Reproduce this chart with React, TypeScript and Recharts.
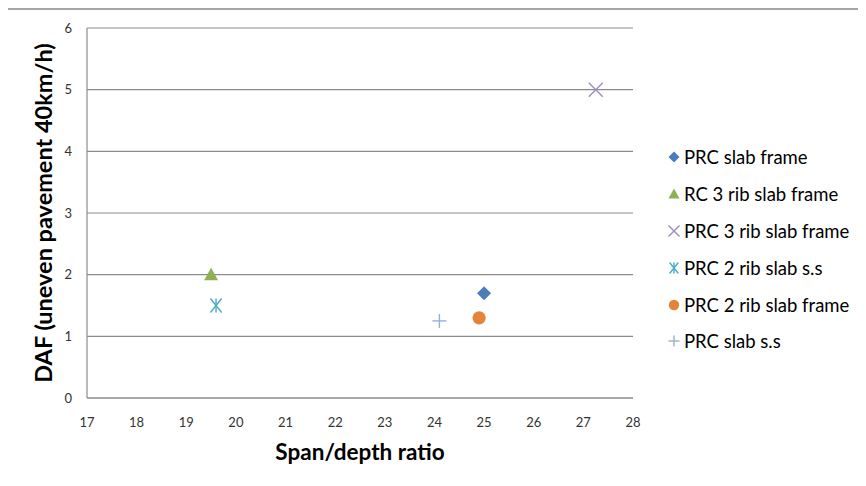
import React from "react";
import {
  ScatterChart,
  Scatter,
  XAxis,
  YAxis,
  CartesianGrid,
  Label,
} from "recharts";

const xTicks = [17, 18, 19, 20, 21, 22, 23, 24, 25, 26, 27, 28];
const yTicks = [0, 1, 2, 3, 4, 5, 6];

const prcSlabFrame = [{ x: 25.0, y: 1.7 }];
const rc3RibSlabFrame = [{ x: 19.5, y: 2.0 }];
const prc3RibSlabFrame = [{ x: 27.25, y: 5.0 }];
const prc2RibSlabSS = [{ x: 19.6, y: 1.5 }];
const prc2RibSlabFrame = [{ x: 24.9, y: 1.3 }];
const prcSlabSS = [{ x: 24.1, y: 1.25 }];

const seriesNames = [
  "PRC slab frame",
  "RC 3 rib slab frame",
  "PRC 3 rib slab frame",
  "PRC 2 rib slab s.s",
  "PRC 2 rib slab frame",
  "PRC slab s.s",
];
const seriesColors = ["#4A7EBB", "#8DB255", "#A08DBF", "#4BACC6", "#E3843A", "#95B0D7"];
const seriesKinds = ["diamond", "triangle", "x", "asterisk", "circle", "plus"];
const seriesData = [prcSlabFrame, rc3RibSlabFrame, prc3RibSlabFrame, prc2RibSlabSS, prc2RibSlabFrame, prcSlabSS];

function marker(kind: string, cx: number, cy: number, color: string, s: number) {
  const h = s / 2;
  switch (kind) {
    case "diamond":
      return <path d={`M${cx},${cy - h} L${cx + h},${cy} L${cx},${cy + h} L${cx - h},${cy} Z`} fill={color} />;
    case "triangle":
      return <path d={`M${cx},${cy - h} L${cx + h},${cy + h * 0.8} L${cx - h},${cy + h * 0.8} Z`} fill={color} />;
    case "x":
      return (
        <g stroke={color} strokeWidth={1.4}>
          <line x1={cx - h} y1={cy - h} x2={cx + h} y2={cy + h} />
          <line x1={cx - h} y1={cy + h} x2={cx + h} y2={cy - h} />
        </g>
      );
    case "asterisk":
      return (
        <g stroke={color} strokeWidth={1.4}>
          <line x1={cx - h * 0.8} y1={cy - h} x2={cx + h * 0.8} y2={cy + h} />
          <line x1={cx - h * 0.8} y1={cy + h} x2={cx + h * 0.8} y2={cy - h} />
          <line x1={cx} y1={cy - h} x2={cx} y2={cy + h} />
        </g>
      );
    case "circle":
      return <circle cx={cx} cy={cy} r={h * 0.95} fill={color} />;
    case "plus":
    default:
      return (
        <g stroke={color} strokeWidth={1.4}>
          <line x1={cx - h} y1={cy} x2={cx + h} y2={cy} />
          <line x1={cx} y1={cy - h} x2={cx} y2={cy + h} />
        </g>
      );
  }
}

const makeShape = (i: number) => (props: any) => {
  const { cx, cy } = props;
  if (cx == null || cy == null) return <g />;
  return marker(seriesKinds[i], cx, cy, seriesColors[i], 14);
};

const LegendBox = () => (
  <div
    style={{
      position: "absolute",
      left: 667,
      top: 139,
      width: 199,
      fontFamily: "Lato, 'Open Sans', sans-serif",
      fontSize: 18.5,
      color: "#000",
      whiteSpace: "nowrap",
    }}
  >
    {seriesNames.map((name, i) => (
      <div key={name} style={{ display: "flex", alignItems: "center", height: 36.8 }}>
        <svg width={14} height={14} style={{ marginRight: 3 }}>
          {marker(seriesKinds[i], 7, 7, seriesColors[i], 11)}
        </svg>
        <span>{name}</span>
      </div>
    ))}
  </div>
);

const tickStyle = { fontFamily: "Lato, 'Open Sans', sans-serif", fontSize: 13, fill: "#333" };
const titleStyle = { fontFamily: "Lato, 'Open Sans', sans-serif", fontWeight: 700, fill: "#000" };

export default function App() {
  return (
    <div style={{ position: "relative", margin: -8, width: 866, height: 486, overflow: "hidden", background: "#fff" }}>
      <div style={{ position: "absolute", left: 0, top: 0 }}>
        <ScatterChart width={866} height={486} margin={{ top: 28, right: 233, bottom: 0, left: 0 }}>
          <CartesianGrid horizontal vertical={false} stroke="#8c8c8c" strokeWidth={1.2} />
          <XAxis
            type="number"
            dataKey="x"
            domain={[17, 28]}
            ticks={xTicks}
            interval={0}
            height={88}
            tickLine={false}
            axisLine={{ stroke: "#8c8c8c", strokeWidth: 1.2 }}
            tick={tickStyle}
            tickMargin={14}
          >
            <Label value="Span/depth ratio" position="insideTop" offset={46} style={{ ...titleStyle, fontSize: 22.5 }} />
          </XAxis>
          <YAxis
            type="number"
            dataKey="y"
            domain={[0, 6]}
            ticks={yTicks}
            interval={0}
            width={87}
            tickLine={false}
            axisLine={{ stroke: "#8c8c8c", strokeWidth: 1.2 }}
            tick={tickStyle}
            tickMargin={9}
          >
            <Label
              value="DAF (uneven pavement 40km/h)"
              angle={-90}
              position="insideLeft"
              offset={44}
              style={{ ...titleStyle, fontSize: 23.5, textAnchor: "middle" }}
            />
          </YAxis>
          {seriesData.map((d, i) => (
            <Scatter
              key={seriesNames[i]}
              name={seriesNames[i]}
              data={d}
              fill={seriesColors[i]}
              shape={makeShape(i)}
              isAnimationActive={false}
            />
          ))}
        </ScatterChart>
      </div>
      <LegendBox />
      <div
        style={{
          position: "absolute",
          left: 6,
          top: 8,
          width: 900,
          height: 600,
          borderLeft: "2px solid #a6a6a6",
          borderTop: "2px solid #a6a6a6",
          pointerEvents: "none",
        }}
      />
    </div>
  );
}
